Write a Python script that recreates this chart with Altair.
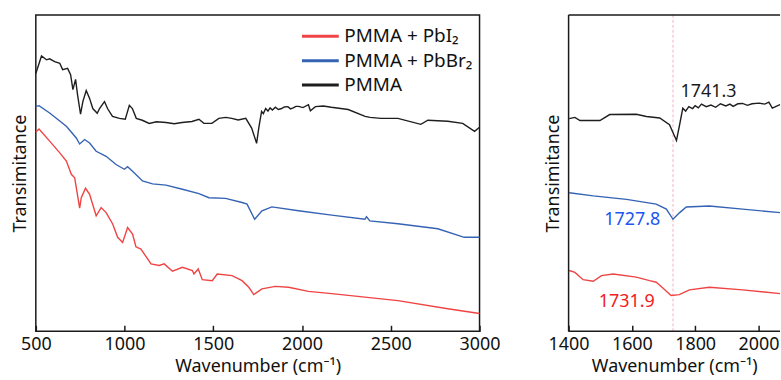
import altair as alt
import pandas as pd

# ---------------- data ----------------
SERIES = ["PMMA + PbI₂", "PMMA + PbBr₂", "PMMA"]
COLORS = ["#ef4444", "#3563b4", "#1e1e1e"]

# Left panel: full spectra, 500-3000 cm-1 (arbitrary transmittance units)
pmma_w = [500, 532, 560, 578, 606, 635, 651, 679, 696, 709, 724, 735, 752, 765, 784, 803,
          821, 846, 859, 887, 904, 932, 971, 1004, 1027, 1044, 1066, 1100, 1139, 1180, 1234,
          1280, 1324, 1380, 1419, 1447, 1492, 1531, 1570, 1604, 1640, 1683, 1716, 1744, 1756,
          1772, 1782, 1795, 1808, 1820, 1833, 1850, 1866, 1885, 1900, 1920, 1935, 1950, 1966,
          1980, 2005, 2036, 2047, 2075, 2120, 2165, 2260, 2355, 2383, 2445, 2540, 2669, 2709,
          2821, 2905, 2972, 3000]
pmma_t = [81.5, 87.0, 85.8, 86.1, 85.2, 84.7, 82.7, 83.1, 81.1, 76.4, 79.6, 74.8, 68.6, 72.6,
          76.1, 73.6, 70.4, 68.9, 70.4, 72.6, 70.4, 67.9, 67.3, 67.0, 71.4, 70.4, 67.3, 66.7,
          65.7, 66.2, 66.0, 65.6, 66.0, 66.3, 67.0, 65.7, 65.7, 67.3, 67.6, 67.3, 66.8, 67.3,
          64.2, 59.4, 64.2, 69.5, 68.8, 70.4, 69.6, 70.6, 69.9, 70.8, 70.1, 70.4, 70.9, 71.0,
          70.3, 70.6, 71.1, 71.1, 70.7, 71.6, 69.7, 71.0, 71.2, 70.8, 70.1, 67.9, 67.6, 67.3,
          67.3, 65.4, 66.7, 66.4, 65.7, 63.2, 64.5]

pbbr_w = [500, 518, 578, 672, 728, 747, 775, 803, 840, 896, 952, 999, 1017, 1045, 1101, 1158,
          1233, 1326, 1419, 1475, 1569, 1662, 1690, 1733, 1774, 1830, 1980, 2167, 2354, 2363,
          2382, 2540, 2765, 2914, 3000]
pbbr_t = [71.1, 71.3, 69.0, 64.8, 61.1, 59.2, 60.6, 59.5, 56.9, 55.3, 52.7, 51.2, 52.0, 50.6,
          47.5, 46.6, 46.2, 44.9, 43.5, 42.2, 42.0, 40.7, 40.2, 35.4, 38.1, 39.3, 38.1, 36.7,
          35.4, 36.2, 34.9, 34.0, 32.4, 29.7, 29.7]

pbi_w = [500, 518, 578, 635, 672, 700, 719, 747, 756, 780, 803, 840, 868, 896, 933, 961, 989,
         1017, 1045, 1064, 1092, 1149, 1195, 1223, 1270, 1326, 1382, 1391, 1415, 1438, 1494,
         1522, 1606, 1662, 1700, 1728, 1774, 1849, 1924, 2036, 2167, 2354, 2540, 2821, 3000]
pbi_t = [63.0, 63.9, 60.1, 56.4, 53.8, 49.6, 48.5, 38.9, 42.2, 45.2, 43.3, 36.5, 39.1, 37.5,
         33.9, 29.7, 28.1, 32.8, 30.7, 26.7, 26.0, 21.3, 20.8, 21.3, 19.0, 20.2, 19.2, 18.1,
         19.7, 16.3, 16.0, 18.1, 17.6, 16.0, 13.9, 11.6, 13.4, 14.2, 13.9, 12.6, 11.9, 10.8,
         9.7, 7.1, 5.6]

# Right panel: zoom on the C=O band (visible part 1400-2070 cm-1)
z_pmma_w = [1402, 1420, 1436, 1499, 1530, 1614, 1646, 1688, 1719, 1741, 1750, 1761, 1770, 1780,
            1792, 1800, 1810, 1820, 1835, 1850, 1865, 1880, 1897, 1910, 1920, 1935, 1950, 1965,
            1980, 2002, 2020, 2033, 2044, 2068, 2100]
z_pmma_t = [67.2, 67.6, 66.6, 66.6, 68.5, 68.6, 67.9, 67.4, 65.3, 60.3, 64.8, 70.5, 69.6, 71.0,
            70.4, 71.3, 70.6, 71.8, 71.0, 71.5, 70.8, 71.9, 71.2, 71.8, 71.1, 71.9, 72.0, 71.4,
            71.9, 72.1, 71.8, 72.4, 70.5, 71.6, 71.8]
z_pbbr_w = [1402, 1478, 1583, 1677, 1709, 1730, 1751, 1772, 1845, 1950, 2069, 2100]
z_pbbr_t = [43.8, 42.8, 41.7, 40.2, 38.6, 35.4, 37.5, 39.3, 39.6, 38.6, 37.5, 37.3]
z_pbi_w = [1402, 1420, 1446, 1478, 1504, 1541, 1614, 1656, 1677, 1698, 1724, 1750, 1782, 1845,
           1950, 2069, 2100]
z_pbi_t = [19.2, 18.6, 16.3, 15.8, 17.6, 18.1, 17.1, 16.0, 15.5, 13.7, 11.3, 11.6, 13.1, 13.9,
           13.1, 11.9, 11.7]

# Peak annotations (label, wavenumber anchor, transmittance anchor, colour)
ann_text = ["1741.3", "1727.8", "1731.9"]
ann_w = [1842, 1601, 1584]
ann_t = [75.5, 35.2, 9.1]
ann_col = ["#1a1a1a", "#2154f0", "#f02020"]
peak_line = [1730]

LEFT_TICKS = [500, 1000, 1500, 2000, 2500, 3000]
RIGHT_TICKS = [1400, 1600, 1800, 2000]

FONT = "Noto Sans"
FS = 18
FRAME = "#1a1a1a"


def frame(pairs):
    rows = []
    for name, ws, ts in pairs:
        for i, (w, t) in enumerate(zip(ws, ts)):
            rows.append({"series": name, "w": w, "t": t, "i": i})
    return pd.DataFrame(rows)


left_df = frame([(SERIES[0], pbi_w, pbi_t), (SERIES[1], pbbr_w, pbbr_t), (SERIES[2], pmma_w, pmma_t)])
right_df = frame([(SERIES[0], z_pbi_w, z_pbi_t), (SERIES[1], z_pbbr_w, z_pbbr_t), (SERIES[2], z_pmma_w, z_pmma_t)])
ann_df = pd.DataFrame({"label": ann_text, "w": ann_w, "t": ann_t, "col": ann_col})
rule_df = pd.DataFrame({"w": peak_line})


def xaxis(ticks):
    return alt.Axis(values=ticks, format="d", title="Wavenumber (cm⁻¹)", grid=False, domain=False,
                    offset=-6, tickSize=6, tickWidth=1.5, tickColor=FRAME,
                    labelPadding=4, labelFontSize=FS, titleFontSize=FS,
                    labelFont=FONT, titleFont=FONT, labelColor="#111", titleColor="#111",
                    titleFontWeight="normal", titlePadding=4, labelFlush=False)


yaxis = alt.Axis(title="Transimitance", labels=False, ticks=False, domain=False, grid=False,
                 titleFontSize=FS, titleFont=FONT, titleFontWeight="normal", titleColor="#111",
                 titlePadding=6)

color_scale = alt.Scale(domain=SERIES, range=COLORS)

left = alt.Chart(left_df).mark_line(strokeWidth=1.4).encode(
    x=alt.X("w:Q", scale=alt.Scale(domain=[500, 3000], nice=False, zero=False), axis=xaxis(LEFT_TICKS)),
    y=alt.Y("t:Q", scale=alt.Scale(domain=[0, 100], nice=False), axis=yaxis),
    color=alt.Color("series:N", scale=color_scale, sort=SERIES,
                    legend=alt.Legend(title=None, orient="none", legendX=274.5, legendY=10,
                                      symbolType="M-1.85,0H1.85", symbolSize=400,
                                      symbolStrokeWidth=3, symbolFillColor="transparent",
                                      labelFontSize=19, labelFont=FONT, labelColor="#111",
                                      rowPadding=2.5, padding=0, labelOffset=12.5)),
    order="i:Q",
).properties(width=446, height=318)

RW = 212.5
right_lines = alt.Chart(right_df).mark_line(strokeWidth=1.4, clip=True).encode(
    x=alt.X("w:Q", scale=alt.Scale(domain=[1400, 1400 + RW / 0.318], nice=False, zero=False),
            axis=xaxis(RIGHT_TICKS)),
    y=alt.Y("t:Q", scale=alt.Scale(domain=[0, 100], nice=False), axis=yaxis),
    color=alt.Color("series:N", scale=color_scale, sort=SERIES, legend=None),
    order="i:Q",
)
right_rule = alt.Chart(rule_df).mark_rule(color="#f3b3c6", strokeDash=[3, 2], strokeWidth=1).encode(
    x="w:Q"
)
right_text = alt.Chart(ann_df).mark_text(fontSize=FS, font=FONT, baseline="middle", align="center").encode(
    x="w:Q", y="t:Q", text="label:N", fill=alt.Fill("col:N", scale=None)
)
# frame of the right panel (its right side is cut off by the figure edge)
fr_left = alt.Chart(rule_df).mark_rule(color=FRAME, strokeWidth=1.5).encode(
    x=alt.value(0), y=alt.value(0), y2=alt.value(318))
fr_top = alt.Chart(rule_df).mark_rule(color=FRAME, strokeWidth=1.5).encode(
    x=alt.value(0), x2=alt.value(RW), y=alt.value(0))
fr_bot = alt.Chart(rule_df).mark_rule(color=FRAME, strokeWidth=1.5).encode(
    x=alt.value(0), x2=alt.value(RW), y=alt.value(318))

right = alt.layer(right_rule, right_lines, right_text, fr_left, fr_top, fr_bot).properties(
    width=RW, height=318, view=alt.ViewBackground(stroke=None)
)

chart = alt.hconcat(left, right, spacing=89.5, bounds="flush").resolve_scale(
    x="independent", y="independent", color="independent"
).resolve_legend(color="independent").configure_view(
    stroke=FRAME, strokeWidth=1.5
).properties(
    padding={"left": 11, "top": 13, "right": 0, "bottom": 0}
)

chart.save("out.html", embed_options={"renderer": "svg", "actions": False})
